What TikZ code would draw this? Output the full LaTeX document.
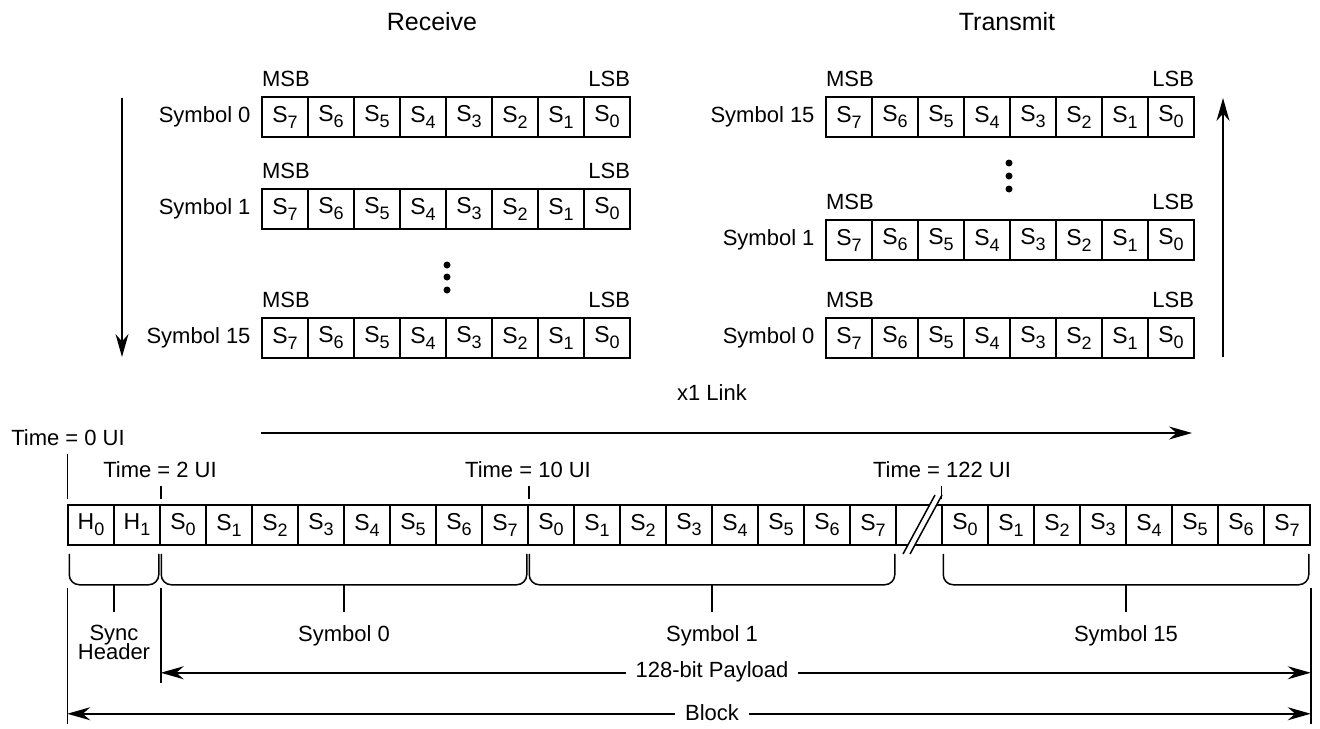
\documentclass[tikz,border=0pt]{standalone}
\usepackage{fontspec}
\setmainfont{Liberation Sans}
\usetikzlibrary{arrows.meta,positioning,calc}
\newcommand{\sub}[1]{\raisebox{-3pt}{\fontsize{9}{9}\selectfont #1}}

\begin{document}
\begin{tikzpicture}[
  x=0.5pt, y=-0.5pt,
  font=\fontsize{11}{11}\selectfont,
  >={Stealth[length=11.5pt,width=6.5pt]},
  line width=0.75pt,
  cell/.style={
    draw,
    minimum width=23pt,
    minimum height=20pt,
    inner sep=0pt,
    font=\fontsize{11.5}{11.5}\selectfont
  },
  msb/.style={inner sep=0pt, anchor=base west},
  lsb/.style={inner sep=0pt, anchor=base east},
  title/.style={font=\fontsize{12.5}{12.5}\selectfont},
  brace/.style={rounded corners=5pt},
  dot/.style={circle, fill, inner sep=0pt, minimum size=3.5pt},
  dimlabel/.style={fill=white, inner xsep=5pt, inner ysep=1pt}
]
  \useasboundingbox (0,0) rectangle (1320,728);

  % Titles
  \node[title] (rxtitle) at (432,22) {Receive};
  \node[title] (txtitle) at (1007,22) {Transmit};

  % Receive side: symbols 0, 1, 15
  \foreach \row/\y/\sym in {a/117/0, b/209/1, c/338/15} {
    \foreach \i in {0,...,7} {
      \pgfmathtruncatemacro\k{7-\i}
      \node[cell] (rx\row\i) at ({285+46*\i},\y) {S\sub{\k}};
    }
    \node[left=5pt of rx\row0, inner sep=0pt] (rxsym\row) {Symbol \sym};
    \node[msb] (rxmsb\row) at ([yshift=5pt]rx\row0.north west) {MSB};
    \node[lsb] (rxlsb\row) at ([yshift=5pt]rx\row7.north east) {LSB};
  }
  \foreach \j/\y in {1/265, 2/277, 3/290}
    \node[dot] (rxdot\j) at (447,\y) {};

  % Transmit side: symbols 15, 1, 0
  \foreach \row/\y/\sym in {a/117/15, b/240/1, c/338/0} {
    \foreach \i in {0,...,7} {
      \pgfmathtruncatemacro\k{7-\i}
      \node[cell] (tx\row\i) at ({849+46*\i},\y) {S\sub{\k}};
    }
    \node[left=5pt of tx\row0, inner sep=0pt] (txsym\row) {Symbol \sym};
    \node[msb] (txmsb\row) at ([yshift=5pt]tx\row0.north west) {MSB};
    \node[lsb] (txlsb\row) at ([yshift=5pt]tx\row7.north east) {LSB};
  }
  \foreach \j/\y in {1/163, 2/176, 3/189}
    \node[dot] (txdot\j) at (1009,\y) {};

  % Order arrows
  \coordinate (rxtop) at (122,98);
  \coordinate (rxbot) at (122,357);
  \draw[->] (rxtop) -- (rxbot);
  \coordinate (txbot) at (1223,357);
  \coordinate (txtop) at (1223,98);
  \draw[->] (txbot) -- (txtop);

  % x1 Link
  \node (link) at (712,393) {x1 Link};
  \coordinate (linkstart) at (261,433);
  \coordinate (linkend) at (1192,433);
  \draw[->] (linkstart) -- (linkend);

  % Serial block on the lane
  \node[cell] (b0) at (91,525) {H\sub{0}};
  \node[cell] (b1) at (137,525) {H\sub{1}};
  \foreach \grp/\first in {p/2, q/10, s/19}
    \foreach \i in {0,...,7}
      \node[cell] (b\grp\i) at ({91+46*(\first+\i)},525) {S\sub{\i}};
  \node[cell] (bgap) at ({91+46*18},525) {};

  % break mark
  \fill[white] (903,554) -- (935,495) -- (942,495) -- (910,554) -- cycle;
  \draw (903,554) -- (935,495) (910,554) -- (942,495);

  % Time stamps
  \node (t0) at (68,438) {Time = 0 UI};
  \node (t2) at (160,470) {Time = 2 UI};
  \node (t10) at (528,470) {Time = 10 UI};
  \node (t122) at (942,470) {Time = 122 UI};
  \draw ([yshift=2.5pt]b0.north west) -- ([yshift=25pt]b0.north west);
  \draw ([yshift=2.5pt]b1.north east) -- ([yshift=9pt]b1.north east);
  \draw ([yshift=2.5pt]bp7.north east) -- ([yshift=9pt]bp7.north east);
  \draw ([yshift=2.5pt]bs0.north west) -- ([yshift=9pt]bs0.north west);

  % Braces
  \foreach \from/\to/\name/\txt in {b0/b1/sync/{Sync\\[-1.5pt]Header}, bp0/bp7/symA/{Symbol 0}, bq0/bq7/symB/{Symbol 1}, bs0/bs7/symC/{Symbol 15}} {
    \draw[brace] ([shift={(1pt,-4pt)}]\from.south west) -- ([shift={(1pt,-19.5pt)}]\from.south west)
      -- ([shift={(-1pt,-19.5pt)}]\to.south east) -- ([shift={(-1pt,-4pt)}]\to.south east);
    \coordinate (\name mid) at ($(\from.south west)!.5!(\to.south east)+(0,39)$);
    \coordinate (\name tip) at ($(\name mid)+(0,27)$);
    \draw (\name mid) -- (\name tip);
    \node[below=3pt of \name tip, align=center] (\name lbl) {\txt};
  }

  % Payload and block dimensions
  \draw (b0.south west) ++(0,42) -- ++(0,136);
  \draw (b1.south east) ++(0,42) -- ++(0,95);
  \draw (bs7.south east) ++(0,42) -- ++(0,136);
  \coordinate (payL) at ($(b1.south east)+(0,127)$);
  \coordinate (payR) at ($(bs7.south east)+(0,127)$);
  \draw[<->] (payL) -- (payR);
  \node[dimlabel] (paylbl) at (712,672) {128-bit Payload};
  \coordinate (blkL) at ($(b0.south west)+(0,168)$);
  \coordinate (blkR) at ($(bs7.south east)+(0,168)$);
  \draw[<->] (blkL) -- (blkR);
  \node[dimlabel] (blklbl) at (712,713) {Block};

\end{tikzpicture}
\end{document}
